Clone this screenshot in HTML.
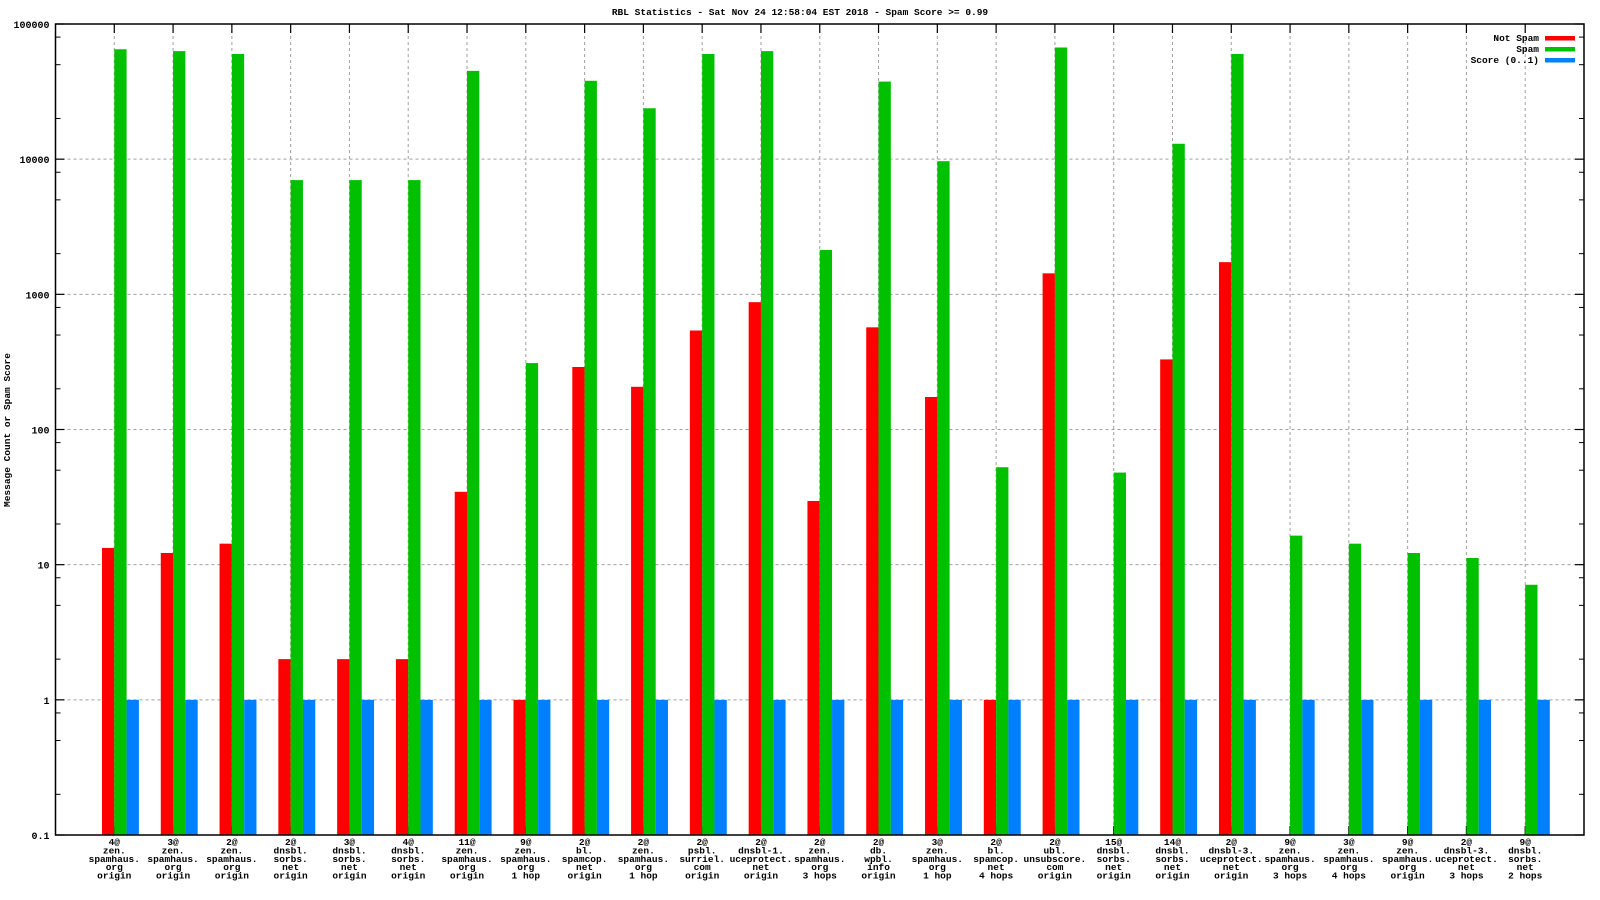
<!DOCTYPE html>
<html><head><meta charset="utf-8"><style>
body{margin:0;background:#fff}
svg{display:block;font-family:"Liberation Mono",monospace;}
</style></head><body>
<svg id="chart" width="1600" height="900"></svg>
<script>
const categories=[
["4@","zen.","spamhaus.","org","origin"],["3@","zen.","spamhaus.","org","origin"],["2@","zen.","spamhaus.","org","origin"],
["2@","dnsbl.","sorbs.","net","origin"],["3@","dnsbl.","sorbs.","net","origin"],["4@","dnsbl.","sorbs.","net","origin"],
["11@","zen.","spamhaus.","org","origin"],["9@","zen.","spamhaus.","org","1 hop"],["2@","bl.","spamcop.","net","origin"],
["2@","zen.","spamhaus.","org","1 hop"],["2@","psbl.","surriel.","com","origin"],["2@","dnsbl-1.","uceprotect.","net","origin"],
["2@","zen.","spamhaus.","org","3 hops"],["2@","db.","wpbl.","info","origin"],["3@","zen.","spamhaus.","org","1 hop"],
["2@","bl.","spamcop.","net","4 hops"],["2@","ubl.","unsubscore.","com","origin"],["15@","dnsbl.","sorbs.","net","origin"],
["14@","dnsbl.","sorbs.","net","origin"],["2@","dnsbl-3.","uceprotect.","net","origin"],["9@","zen.","spamhaus.","org","3 hops"],
["3@","zen.","spamhaus.","org","4 hops"],["9@","zen.","spamhaus.","org","origin"],["2@","dnsbl-3.","uceprotect.","net","3 hops"],
["9@","dnsbl.","sorbs.","net","2 hops"]];
const notSpam=[13.3,12.2,14.3,2,2,2,34.6,1,290,207,540,875,29.6,570,174,1,1430,null,330,1730,null,null,null,null,null];
const spam=[65000,63000,60000,7000,7000,7000,45000,310,38000,23800,60000,63000,2130,37500,9660,52.6,67000,48,13000,60000,16.4,14.3,12.2,11.2,7.1];
const score=[1,1,1,1,1,1,1,1,1,1,1,1,1,1,1,1,1,1,1,1,1,1,1,1,1];
const yTicks=[0.1,1,10,100,1000,10000,100000];
const yTickLabels=["0.1","1","10","100","1000","10000","100000"];
const seriesNames=["Not Spam","Spam","Score (0..1)"];

const NS="http://www.w3.org/2000/svg";
const svg=document.getElementById("chart");
const L=55.5,R=1584,T=24,B=835;
const step=(R-L)/(categories.length+1);
const xc=i=>L+step*(i+1);
const y=v=>B-(Math.log10(v)+1)*(B-T)/6;
function mk(tag,attrs,parent){const e=document.createElementNS(NS,tag);for(const k in attrs)e.setAttribute(k,attrs[k]);(parent||svg).appendChild(e);return e;}

// grid
yTicks.forEach((v,i)=>{
  if(i>0&&i<yTicks.length-1){const g=mk("line",{x1:L,x2:R,y1:y(v),y2:y(v),stroke:"#a0a0a0","stroke-dasharray":"3,3"});
  
  }
  const t=mk("text",{x:L-6,y:y(v)+4,"text-anchor":"end","font-size":"10","font-weight":"bold"});
  t.textContent=yTickLabels[i];
  
  
  mk("line",{x1:L,x2:L+9,y1:y(v),y2:y(v),stroke:"#000","stroke-width":1.2});
  mk("line",{x1:R,x2:R-9,y1:y(v),y2:y(v),stroke:"#000","stroke-width":1.2});
  if(i<yTicks.length-1){[2,5,8].forEach(m=>{const yy=y(v*m);
    mk("line",{x1:L,x2:L+5,y1:yy,y2:yy,stroke:"#000"});mk("line",{x1:R,x2:R-5,y1:yy,y2:yy,stroke:"#000"});});}
});
categories.forEach((c,i)=>{
  const g=mk("line",{x1:xc(i),x2:xc(i),y1:T,y2:B,stroke:"#a0a0a0","stroke-dasharray":"3,3"});
  
  
  mk("line",{x1:xc(i),x2:xc(i),y1:T,y2:T+9,stroke:"#000","stroke-width":1.2});
  mk("line",{x1:xc(i),x2:xc(i),y1:B,y2:B-9,stroke:"#000","stroke-width":1.2});
  const t=mk("text",{x:xc(i),y:B+10,"text-anchor":"middle","font-size":"9.5","font-weight":"bold"});
  
  
  c.forEach((line,k)=>{const s=mk("tspan",{x:xc(i),dy:k?8.4:0},t);s.textContent=line;});
});
// bars
const colors=["#ff0000","#00c000","#0080ff"];
const series=[notSpam,spam,score];
const bw=12.3, offs=[-bw,0,bw];
series.forEach((arr,s)=>arr.forEach((v,i)=>{
  if(v==null)return;
  const r=mk("rect",{x:xc(i)+offs[s],y:y(v),width:bw,height:B-y(v),fill:colors[s]});
  
  
}));
// frame
const f=mk("rect",{x:L,y:T,width:R-L,height:B-T,fill:"none",stroke:"#000","stroke-width":1.5});


// legend
seriesNames.forEach((n,i)=>{
  const yy=38+i*11;
  const t=mk("text",{x:1539,y:yy+3,"text-anchor":"end","font-size":"9.5","font-weight":"bold"});
  t.textContent=n;
  
  
  mk("rect",{x:1545,y:yy-2,width:30,height:4.5,fill:colors[i]});
});
// titles
const title=mk("text",{x:800,y:15,"text-anchor":"middle","font-size":"9.5","font-weight":"bold"});
title.textContent="RBL Statistics - Sat Nov 24 12:58:04 EST 2018 - Spam Score >= 0.99";


const yt=mk("text",{x:0,y:0,"text-anchor":"middle","font-size":"9.5","font-weight":"bold",transform:"translate(10,430) rotate(-90)"});
yt.textContent="Message Count or Spam Score";


</script>
</body></html>
